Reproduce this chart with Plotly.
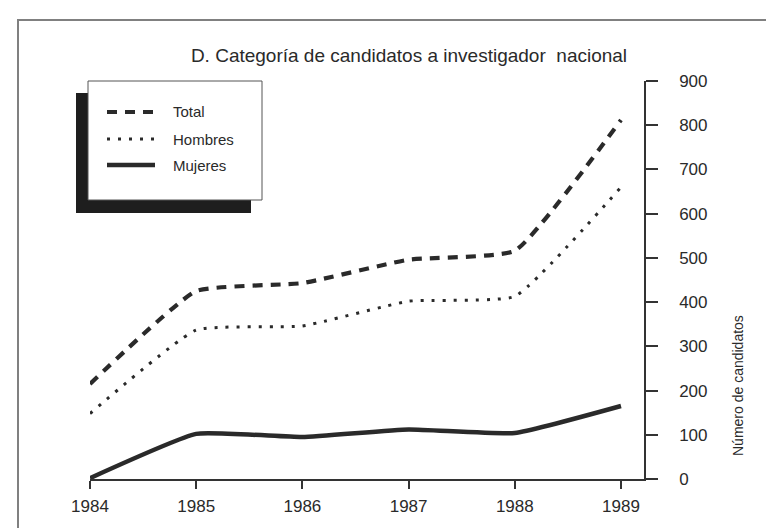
import plotly.graph_objects as go

# ---------------- data ----------------
years = [1984, 1985, 1986, 1987, 1988, 1989]
total = [215, 425, 443, 496, 516, 812]
hombres = [148, 337, 346, 402, 413, 660]
mujeres = [2, 102, 95, 112, 104, 165]
series_names = ["Total", "Hombres", "Mujeres"]
y_ticks = [0, 100, 200, 300, 400, 500, 600, 700, 800, 900]
title_text = "D. Categoría de candidatos a investigador  nacional"
y_title = "Número de candidatos"

# ---------------- geometry helpers (pixel -> paper) ----------------
W, H = 774, 528
L, R, T, B = 82, 636, 73, 471   # plot area in pixels


def px(x):
    return (x - L) / (R - L)


def py(y):
    return (B - y) / (B - T)


INK = "#2a2a2a"
FONT = "Liberation Sans, Arial, Helvetica, sans-serif"

styles = [
    dict(dash="10px,8px", width=4.2),
    dict(dash="3px,8px", width=3),
    dict(dash="solid", width=4.5),
]
values = [total, hombres, mujeres]

fig = go.Figure()
for name, vals, st in zip(series_names, values, styles):
    fig.add_trace(go.Scatter(
        x=years, y=vals, name=name, mode="lines",
        line=dict(color=INK, width=st["width"], dash=st["dash"],
                  shape="spline", smoothing=0.4),
        showlegend=False,
    ))

fig.update_layout(
    width=W, height=H,
    margin=dict(l=L, r=W - R, t=T, b=H - B),
    paper_bgcolor="white", plot_bgcolor="white",
    font=dict(family=FONT, color=INK),
    title=dict(text=title_text, x=401 / W, xref="container", xanchor="center",
               y=1 - 47 / H, yref="container", yanchor="middle",
               font=dict(size=19, color=INK, family=FONT)),
    showlegend=False,
)

fig.update_xaxes(
    range=[1984, 1984 + (R - L) / 106.2],
    tickvals=years, ticktext=[str(y) for y in years],
    ticks="outside", ticklen=8, tickwidth=1.5, tickcolor="#333",
    showline=True, linecolor="#333", linewidth=1.5,
    showgrid=False, zeroline=False,
    tickfont=dict(size=17, color=INK), ticklabelstandoff=3,
)
fig.update_yaxes(
    side="right", range=[0, 900], tickvals=y_ticks,
    ticks="outside", ticklen=12, tickwidth=1.5, tickcolor="#333",
    showline=True, linecolor="#333", linewidth=1.5,
    showgrid=False, zeroline=False,
    tickfont=dict(size=17, color=INK), ticklabelstandoff=18,
)

shapes = []
# x-axis line extension past the right axis
shapes.append(dict(type="line", xref="paper", yref="paper",
                   x0=1, x1=px(647), y0=0, y1=0,
                   line=dict(color="#333", width=1.5)))
# outer frame (top and left)
shapes.append(dict(type="line", xref="paper", yref="paper",
                   x0=px(9), x1=px(774), y0=py(12), y1=py(12),
                   line=dict(color="#808080", width=2)))
shapes.append(dict(type="line", xref="paper", yref="paper",
                   x0=px(10), x1=px(10), y0=py(12), y1=py(528),
                   line=dict(color="#808080", width=2)))
# legend shadow and box
shapes.append(dict(type="rect", xref="paper", yref="paper",
                   x0=px(68), x1=px(243), y0=py(205), y1=py(85),
                   fillcolor="#1e1e1e", line=dict(width=0)))
shapes.append(dict(type="rect", xref="paper", yref="paper",
                   x0=px(80), x1=px(254), y0=py(192), y1=py(73),
                   fillcolor="white", line=dict(color="#555", width=1)))

legend_rows = [104, 131, 157]
annotations = []
for name, st, yy in zip(series_names, styles, legend_rows):
    shapes.append(dict(type="line", xref="paper", yref="paper",
                       x0=px(99), x1=px(147), y0=py(yy), y1=py(yy),
                       line=dict(color=INK, width=st["width"], dash=st["dash"])))
    annotations.append(dict(text=name, xref="paper", yref="paper",
                            x=px(163), y=py(yy), xanchor="left", yanchor="middle",
                            showarrow=False, font=dict(size=15, color=INK, family=FONT)))

annotations.append(dict(text=y_title, xref="paper", yref="paper",
                        x=px(730), y=py(378), xanchor="center", yanchor="middle",
                        textangle=-90, showarrow=False,
                        font=dict(size=14, color=INK, family=FONT)))

fig.update_layout(shapes=shapes, annotations=annotations)

fig.write_html("out.html")
